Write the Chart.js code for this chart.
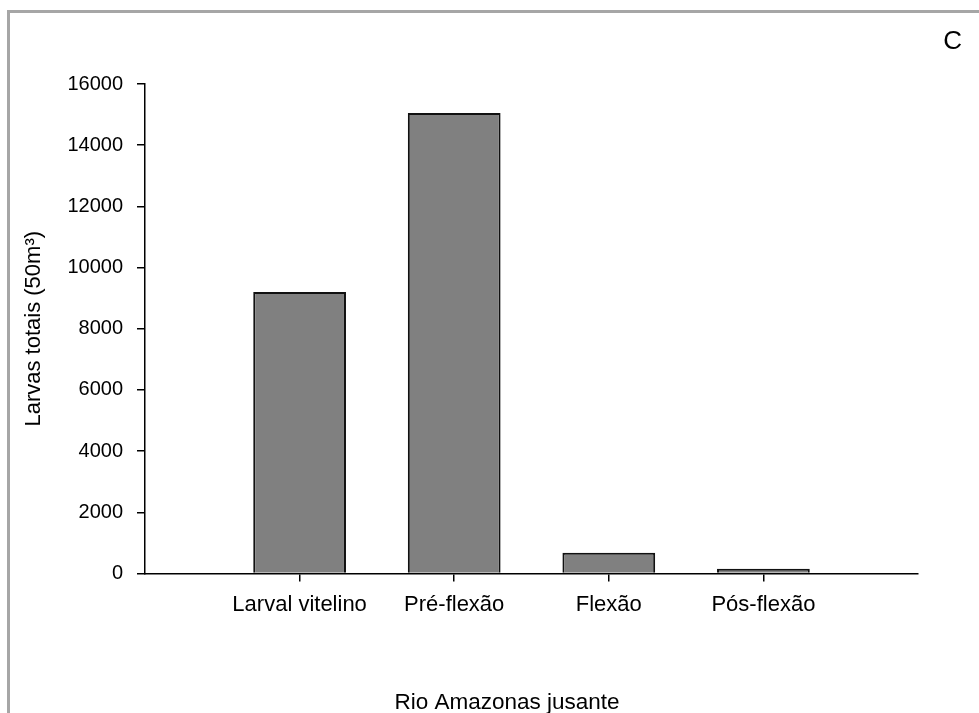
<!DOCTYPE html>
<html lang="pt">
<head>
  <meta charset="utf-8">
  <title>Rio Amazonas jusante</title>
  <style>
    html, body { margin: 0; padding: 0; background: #fff; }
    #wrap { position: relative; width: 979px; height: 713px; overflow: hidden; }
    /* moldura cinza do painel original */
    #frame { position: absolute; left: 7px; top: 10px; width: 1000px; height: 800px;
             border-top: 3px solid #a6a6a6; border-left: 3px solid #a6a6a6; }
    #box { position: absolute; left: 0; top: 0; width: 979px; height: 713px; }
  </style>
</head>
<body>
  <div id="wrap">
    <div id="frame"></div>
    <div id="box"><canvas id="myChart"></canvas></div>
  </div>

  <script src="https://cdn.jsdelivr.net/npm/chart.js@4.4.0/dist/chart.umd.min.js"></script>
  <script>
    // categorias (primeira e última vazias, como no original)
    var categorias = ['', 'Larval vitelino', 'Pré-flexão', 'Flexão', 'Pós-flexão', ''];
    // larvas totais por 50 m³
    var larvas = [null, 9200, 15050, 680, 160, null];
    var yMin = 0;
    var yMax = 16000;
    var yPasso = 2000;

    var fonte = '"Liberation Sans", Arial, sans-serif';

    var ctx = document.getElementById('myChart');

    var myChart = new Chart(ctx, {
      type: 'bar',
      data: {
        labels: categorias,
        datasets: [
          {
            label: 'Larvas totais',
            data: larvas,
            backgroundColor: '#808080',
            borderColor: '#111',
            borderWidth: 2,
            barPercentage: 0.6,
            categoryPercentage: 1.0
          }
        ]
      },
      options: {
        responsive: true,
        maintainAspectRatio: false,
        animation: false,
        layout: { padding: { left: 52, right: 17, top: 0, bottom: 0 } },
        plugins: {
          legend: { display: false },
          tooltip: { enabled: false },
          title: {
            display: true,
            text: 'C',
            position: 'top',
            align: 'end',
            color: '#000',
            font: { family: fonte, size: 26, weight: 'normal', lineHeight: 1.2 },
            padding: { top: 26.4, bottom: 26.4 }
          },
          subtitle: {
            display: true,
            text: 'Rio Amazonas jusante',
            position: 'bottom',
            align: 'center',
            color: '#000',
            font: { family: fonte, size: 22.5, weight: 'normal', lineHeight: 0.9 },
            padding: { top: 0, bottom: 0 }
          }
        },
        scales: {
          x: {
            offset: false,
            grid: {
              offset: false,
              drawOnChartArea: false,
              drawTicks: true,
              tickLength: 8,
              lineWidth: 1.5,
              color: function(c) {
                return (c.index >= 1 && c.index <= 4) ? '#000' : 'rgba(0,0,0,0)';
              }
            },
            border: { display: true, color: '#000', width: 1.5 },
            ticks: {
              autoSkip: false,
              maxRotation: 0,
              padding: 10,
              color: '#000',
              font: { family: fonte, size: 22 }
            },
            afterFit: function(s) { s.height = 119.2; }
          },
          y: {
            min: yMin,
            max: yMax,
            grid: {
              drawOnChartArea: false,
              drawTicks: true,
              tickLength: 8,
              lineWidth: 1.5,
              color: '#000'
            },
            border: { display: true, color: '#000', width: 1.5 },
            ticks: {
              stepSize: yPasso,
              padding: 14,
              color: '#000',
              font: { family: fonte, size: 20 },
              callback: function(v) { return String(v); }
            },
            title: {
              display: true,
              text: 'Larvas totais (50m³)',
              color: '#000',
              font: { family: fonte, size: 22 },
              padding: { top: -31, bottom: 0 }
            },
            afterFit: function(s) { s.width = 93; }
          },
          // eixo vazio à direita só para reservar espaço
          yR: {
            position: 'right',
            display: true,
            grid: { display: false },
            border: { display: false },
            ticks: { display: false },
            afterFit: function(s) { s.width = 44; }
          }
        }
      }
    });
  </script>
</body>
</html>
